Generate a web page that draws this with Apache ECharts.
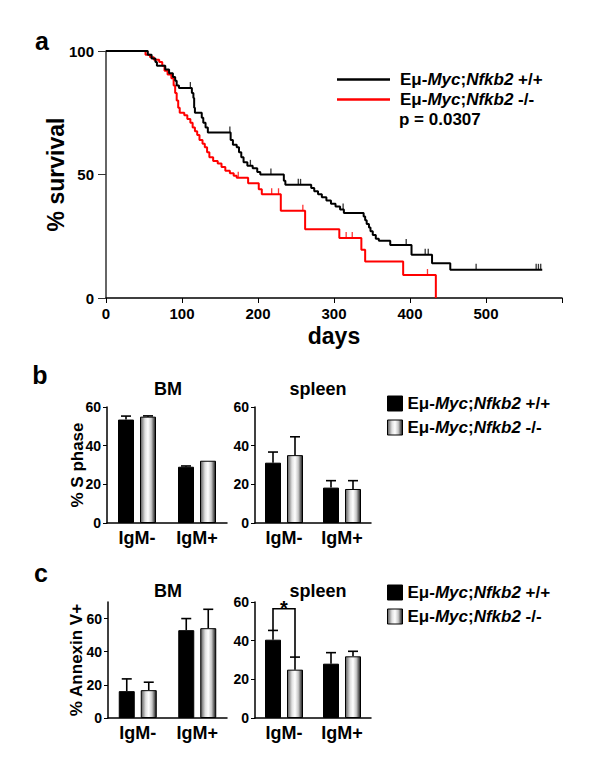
<!DOCTYPE html>
<html>
<head>
<meta charset="utf-8">
<script src="https://cdn.jsdelivr.net/npm/echarts@6/dist/echarts.min.js"></script>
<style>
html,body{margin:0;padding:0;background:#fff;}
#chart{width:600px;height:778px;}
</style>
</head>
<body>
<div id="chart"></div>
<script>
// ---------- DATA ----------
// Panel a: Kaplan–Meier curves [day, % survival]
const kmWildType = [
  [0,100],[53,100],[55,98.5],[60,97],[65,95.5],[67,94],[76,94],[78,92.5],[83,91],[88,89.5],[91,88],[93,86],[96,85],
  [111,85],[113,83],[115,81],[116,77],[117,75],[123,75],[126,73],[128,71],[131,69],[134,67],[161,67],[164,64],
  [167,62],[172,61],[175,59],[178,57],[181,55],[186,53.5],[193,52.5],[199,51],[203,50],[232,50],[234,47.5],
  [236,45.8],[266,45.8],[270,44.5],[274,43.2],[279,42],[284,40.8],[290,39.5],[296,38.2],[302,37],[308,35.8],
  [313,34.4],[337,34.4],[339,33],[341,31.5],[343,30],[346,28.5],[348,27],[351,25.5],[355,24],[359,23.2],
  [372,23.2],[374,21.5],[400,21.5],[402,17.5],[427,17.5],[429,14.1],[451,14.1],[453,11.4],[574,11.4]
];
const kmKnockout = [
  [0,100],[49,100],[52,98.5],[58,97.5],[63,96.5],[70,95.5],[74,94],[77,92],[81,90.5],[86,89],[89,86],[91,83],
  [93,80],[95,77],[97,75],[103,74],[107,72.5],[111,71],[114,69],[117,67.5],[120,66],[123,64],[127,62.5],[130,61],
  [133,59],[136,57],[141,55.5],[147,54.5],[152,53],[157,51.5],[163,50.5],[168,49.5],[172,48.7],[185,48.7],
  [187,46.5],[199,46.5],[201,44],[205,42],[228,42],[230,35.3],[261,35.3],[262,27.8],[306,27.8],[307,24.3],
  [335,24.3],[336,19.5],[341,14.8],[390,14.8],[391,9.3],[433,9.3],[434,0]
];
const censorWildType = [[111,85],[163,67],[190,53.5],[217,50],[253,45.8],[256,45.8],[312,35.8],[395,21.5],
  [420,17.5],[424,17.5],[487,11.4],[566,11.4],[569,11.4],[572,11.4]];
const censorKnockout = [[174,48.7],[218,42],[227,42],[259,35.3],[316,24.3],[324,24.3],[423,9.3]];
const kmXTicks = [0,100,200,300,400,500];
const kmYTicks = [0,50,100];
const pValueText = 'p = 0.0307';

// Panels b & c
const barCategories = ['IgM-','IgM+'];
const sPhaseBM_wt = [53.5, 29.1], sPhaseBM_wt_err = [55.3, 29.5];
const sPhaseBM_ko = [55.0, 32.2], sPhaseBM_ko_err = [55.4, 32.2];
const sPhaseSp_wt = [31.2, 18.3], sPhaseSp_wt_err = [36.7, 21.9];
const sPhaseSp_ko = [35.1, 17.6], sPhaseSp_ko_err = [44.6, 21.9];
const annexBM_wt = [16.2, 53.0], annexBM_wt_err = [23.6, 60.0];
const annexBM_ko = [16.8, 54.2], annexBM_ko_err = [21.6, 65.6];
const annexSp_wt = [40.5, 28.1], annexSp_wt_err = [45.3, 33.8];
const annexSp_ko = [25.0, 31.9], annexSp_ko_err = [31.5, 34.5];
const sigBracket = [0, 56.5, 45.3, 31.5]; // [category, top, left end, right end]
const sigLabel = '*';
const barTicks = [0,20,40,60];

const NAME_WT = 'Eμ-Myc;Nfkb2 +/+';
const NAME_KO = 'Eμ-Myc;Nfkb2 -/-';
const KM_WT = 'KM ' + NAME_WT;
const KM_KO = 'KM ' + NAME_KO;

// ---------- STYLE ----------
const FONT = '"Liberation Sans", Arial, Helvetica, sans-serif';
const BAR_W = 16, BAR_GAP = 6;
const greyFill = new echarts.graphic.LinearGradient(0,0,1,0,[
  {offset:0,color:'#5a5a5a'},{offset:0.3,color:'#e0e0e0'},{offset:0.5,color:'#ffffff'},
  {offset:0.72,color:'#c8c8c8'},{offset:1,color:'#151515'}]);
const richLabel = {
  n:{fontFamily:FONT,fontWeight:'bold',fontSize:17,color:'#000',lineHeight:16},
  i:{fontFamily:FONT,fontWeight:'bold',fontStyle:'italic',fontSize:17,color:'#000',lineHeight:16}
};
function legendFmt(name){
  const ko = name.indexOf('-/-') >= 0;
  return '{n|Eμ-}{i|Myc}{n|;}{i|Nfkb2}{n|' + (ko ? ' -/-' : ' +/+') + '}';
}

const chart = echarts.init(document.getElementById('chart'), null, {renderer:'svg', width:600, height:778});

const grids = [
  {left:106, top:51, width:456, height:247},   // a
  {left:107, top:407, width:120, height:116},  // b BM
  {left:255, top:407, width:116, height:116},  // b spleen
  {left:108, top:602, width:119, height:116},  // c BM
  {left:255, top:602, width:116, height:116}   // c spleen
];

const axisLineStyle = {color:'#000', width:1.5};
const tickLbl = {fontFamily:FONT, fontWeight:'bold', fontSize:14, color:'#000'};

const xAxes = [
  {gridIndex:0, type:'value', min:0, max:600, interval:100,
   axisLine:{lineStyle:axisLineStyle}, axisTick:{length:5, lineStyle:{color:'#000'}},
   axisLabel:Object.assign({}, tickLbl, {fontSize:15, lineHeight:14, margin:8, formatter:v => kmXTicks.indexOf(v) >= 0 ? String(v) : ''}),
   splitLine:{show:false},
   name:'days', nameLocation:'middle', nameGap:28, nameMoveOverlap:false,
   nameTextStyle:{fontFamily:FONT, fontWeight:'bold', fontSize:23, lineHeight:20, color:'#000'}}
];
const yAxes = [
  {gridIndex:0, type:'value', min:0, max:100, interval:50,
   axisLine:{show:true, lineStyle:{color:'#333', width:1.5}}, axisTick:{show:true, length:8, lineStyle:{color:'#333'}},
   axisLabel:Object.assign({}, tickLbl, {fontSize:15, margin:12, formatter:v => kmYTicks.indexOf(v) >= 0 ? String(v) : ''}),
   splitLine:{show:false},
   name:'% survival', nameLocation:'middle', nameGap:39, nameRotate:90, nameMoveOverlap:false,
   nameTextStyle:{fontFamily:FONT, fontWeight:'bold', fontSize:23, color:'#000'}}
];
const barYMax = [60, 60, 70, 60];
const barYName = ['% S phase', '', '% Annexin V+', ''];
const barYNameGap = [21, 21, 23, 23];
for (let k = 0; k < 4; k++) {
  const g = k + 1;
  xAxes.push({gridIndex:g, type:'category', data:barCategories,
    axisLine:{lineStyle:axisLineStyle}, axisTick:{show:false},
    axisLabel:{fontFamily:FONT, fontWeight:'bold', fontSize:18, color:'#000', margin:6}});
  yAxes.push({gridIndex:g, type:'value', min:0, max:barYMax[k], interval:20,
    axisLine:{show:true, lineStyle:axisLineStyle},
    axisTick:{show:true, length:4, lineStyle:{color:'#000'}, customValues:barTicks},
    axisLabel:Object.assign({}, tickLbl, {margin:6, customValues:barTicks}),
    splitLine:{show:false},
    name:barYName[k], nameLocation:'middle', nameGap:barYNameGap[k], nameRotate:90, nameMoveOverlap:false,
    nameTextStyle:{fontFamily:FONT, fontWeight:'bold', fontSize:17, color:'#000'}});
}

function errData(vals, errs, sign) {
  return vals.map((v, i) => [i, v, errs[i], sign]);
}
function errRender(params, api) {
  const p0 = api.coord([api.value(0), api.value(1)]);
  const p1 = api.coord([api.value(0), api.value(2)]);
  const x = p0[0] + api.value(3) * (BAR_W + BAR_GAP) / 2;
  if (Math.abs(p1[1] - p0[1]) < 0.5) return null;
  const st = {stroke:'#000', lineWidth:1.6};
  return {type:'group', children:[
    {type:'line', shape:{x1:x, y1:p0[1], x2:x, y2:p1[1]}, style:st},
    {type:'line', shape:{x1:x-5, y1:p1[1], x2:x+5, y2:p1[1]}, style:st}
  ]};
}
function sigRender(params, api) {
  const half = (BAR_W + BAR_GAP) / 2;
  const top = api.coord([api.value(0), api.value(1)]);
  const l = api.coord([api.value(0), api.value(2)]);
  const r = api.coord([api.value(0), api.value(3)]);
  const xl = top[0] - half, xr = top[0] + half;
  return {type:'group', children:[
    {type:'polyline', shape:{points:[[xl, l[1]], [xl, top[1]], [xr, top[1]], [xr, r[1]]]},
     style:{stroke:'#000', lineWidth:1.6, fill:null}},
    {type:'text', x:top[0], y:top[1] - 11, style:{text:sigLabel, fontFamily:FONT, fontWeight:'bold', fontSize:20,
      fill:'#000', align:'center', verticalAlign:'top'}}
  ]};
}

const series = [
  {name:KM_WT, type:'line', step:'end', xAxisIndex:0, yAxisIndex:0, data:kmWildType, symbol:'none',
   lineStyle:{color:'#000', width:2}, itemStyle:{color:'#000'}, z:3},
  {name:KM_KO, type:'line', step:'end', xAxisIndex:0, yAxisIndex:0, data:kmKnockout, symbol:'none',
   lineStyle:{color:'#ff0000', width:2}, itemStyle:{color:'#ff0000'}, z:2},
  {name:KM_WT, type:'scatter', xAxisIndex:0, yAxisIndex:0, data:censorWildType, symbol:'rect',
   symbolSize:[1.3, 6], symbolOffset:[0, -3], itemStyle:{color:'#000'}, silent:true, z:4},
  {name:KM_KO, type:'scatter', xAxisIndex:0, yAxisIndex:0, data:censorKnockout, symbol:'rect',
   symbolSize:[1.3, 6], symbolOffset:[0, -3], itemStyle:{color:'#ff0000'}, silent:true, z:4}
];

const panels = [
  [sPhaseBM_wt, sPhaseBM_wt_err, sPhaseBM_ko, sPhaseBM_ko_err],
  [sPhaseSp_wt, sPhaseSp_wt_err, sPhaseSp_ko, sPhaseSp_ko_err],
  [annexBM_wt, annexBM_wt_err, annexBM_ko, annexBM_ko_err],
  [annexSp_wt, annexSp_wt_err, annexSp_ko, annexSp_ko_err]
];
panels.forEach((p, k) => {
  const ax = k + 1;
  series.push({name:NAME_WT, type:'bar', xAxisIndex:ax, yAxisIndex:ax, data:p[0], barWidth:BAR_W,
    barGap:(BAR_GAP / BAR_W * 100) + '%', itemStyle:{color:'#000', borderColor:'#000', borderWidth:1}, z:2});
  series.push({name:NAME_KO, type:'bar', xAxisIndex:ax, yAxisIndex:ax, data:p[2], barWidth:BAR_W,
    barGap:(BAR_GAP / BAR_W * 100) + '%', itemStyle:{color:greyFill, borderColor:'#000', borderWidth:1}, z:2});
  series.push({type:'custom', xAxisIndex:ax, yAxisIndex:ax, renderItem:errRender, data:errData(p[0], p[1], -1), z:3, silent:true});
  series.push({type:'custom', xAxisIndex:ax, yAxisIndex:ax, renderItem:errRender, data:errData(p[2], p[3], 1), z:3, silent:true});
});
series.push({type:'custom', xAxisIndex:4, yAxisIndex:4, renderItem:sigRender, data:[sigBracket], z:4, silent:true, clip:false});

const barLegend = (top) => ({
  orient:'vertical', left:387, top:top, padding:0, itemWidth:15, itemHeight:15, itemGap:7, selectedMode:false,
  formatter:legendFmt, textStyle:{rich:richLabel, lineHeight:16},
  data:[
    {name:NAME_WT, icon:'rect', itemStyle:{color:'#000', borderColor:'#000', borderWidth:1}},
    {name:NAME_KO, icon:'rect', itemStyle:{color:greyFill, borderColor:'#000', borderWidth:1}}
  ]
});

const txt = (t, x, y, size, align) => ({type:'text', x:x, y:y,
  style:{text:t, fontFamily:FONT, fontWeight:'bold', fontSize:size, fill:'#000', align:align || 'center', verticalAlign:'middle'}});

chart.setOption({
  animation:false,
  backgroundColor:'#fff',
  grid:grids,
  xAxis:xAxes,
  yAxis:yAxes,
  legend:[
    {orient:'vertical', left:337, top:71, padding:0, itemWidth:53, itemHeight:2.5, itemGap:3, selectedMode:false,
     formatter:legendFmt, textStyle:{rich:richLabel, lineHeight:16, padding:[0,0,0,5]},
     data:[{name:KM_WT, icon:'rect', itemStyle:{color:'#000'}}, {name:KM_KO, icon:'rect', itemStyle:{color:'#ff0000'}}]},
    barLegend(395),
    barLegend(584)
  ],
  graphic:[
    txt('a', 42, 41, 25),
    txt('b', 40, 375, 25),
    txt('c', 41, 573, 25),
    txt(pValueText, 399, 119, 17, 'left'),
    txt('BM', 168, 389, 18),
    txt('spleen', 318, 389, 18),
    txt('BM', 168, 591, 18),
    txt('spleen', 318, 591, 18)
  ],
  series:series
});
</script>
</body>
</html>
